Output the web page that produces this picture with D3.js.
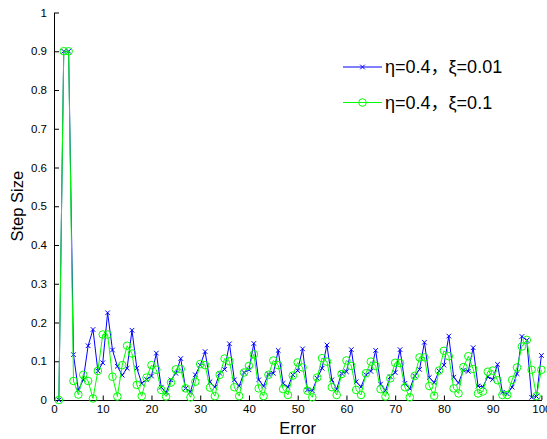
<!DOCTYPE html>
<html>
<head>
<meta charset="utf-8">
<script src="https://cdn.jsdelivr.net/npm/d3@7"></script>
<style>
  html, body { margin: 0; padding: 0; background: #fff; }
  svg { display: block; font-family: "Liberation Sans", Arial, sans-serif; }
</style>
</head>
<body>
<svg id="chart" width="547" height="439"></svg>
<script>
// Step size per error index, two parameter settings
const steps = d3.range(1, 101);

const seriesA = [
  0, 0.9, 0.9, 0.117, 0.026, 0.052, 0.140, 0.182, 0.075, 0.096,
  0.225, 0.129, 0.087, 0.064, 0.082, 0.180, 0.082, 0.043, 0.053, 0.062,
  0.121, 0.033, 0.019, 0.052, 0.069, 0.107, 0.030, 0.021, 0.065, 0.090,
  0.125, 0.047, 0.033, 0.069, 0.079, 0.145, 0.052, 0.036, 0.071, 0.078,
  0.146, 0.052, 0.036, 0.067, 0.069, 0.128, 0.043, 0.033, 0.065, 0.076,
  0.132, 0.026, 0.024, 0.056, 0.082, 0.142, 0.052, 0.028, 0.069, 0.073,
  0.130, 0.047, 0.034, 0.065, 0.074, 0.128, 0.041, 0.024, 0.060, 0.071,
  0.130, 0.043, 0.029, 0.062, 0.079, 0.149, 0.058, 0.045, 0.075, 0.090,
  0.165, 0.059, 0.044, 0.077, 0.074, 0.135, 0.036, 0.034, 0.060, 0.053,
  0.092, 0.020, 0.016, 0.033, 0.068, 0.164, 0.154, 0.007, 0.009, 0.115
];

const seriesB = [
  0, 0.9, 0.9, 0.049, 0.014, 0.065, 0.049, 0.004, 0.075, 0.169,
  0.169, 0.060, 0.009, 0.090, 0.140, 0.120, 0.039, 0.010, 0.058, 0.090,
  0.078, 0.026, 0.009, 0.045, 0.079, 0.080, 0.030, 0.007, 0.047, 0.093,
  0.090, 0.032, 0.010, 0.065, 0.107, 0.100, 0.033, 0.010, 0.071, 0.088,
  0.118, 0.030, 0.010, 0.065, 0.102, 0.090, 0.028, 0.013, 0.063, 0.097,
  0.084, 0.024, 0.007, 0.058, 0.108, 0.099, 0.033, 0.013, 0.067, 0.102,
  0.088, 0.026, 0.013, 0.069, 0.099, 0.088, 0.028, 0.009, 0.056, 0.096,
  0.095, 0.033, 0.007, 0.062, 0.110, 0.110, 0.036, 0.011, 0.076, 0.127,
  0.113, 0.030, 0.017, 0.085, 0.113, 0.080, 0.017, 0.022, 0.073, 0.076,
  0.051, 0.013, 0.013, 0.052, 0.084, 0.138, 0.155, 0.078, 0.010, 0.078
];

const seriesNames = ["η=0.4，ξ=0.01", "η=0.4，ξ=0.1"];
const seriesColors = ["#0000ff", "#00ff00"];

const xTicks = d3.range(0, 101, 10);
const yTicks = d3.range(0, 11).map(i => i / 10);

const svg = d3.select("#chart");
const x = d3.scaleLinear().domain([0, 100]).range([54, 541.4]);
const y = d3.scaleLinear().domain([0, 1]).range([400, 12.5]);

// axes with inward ticks, left and bottom only
const xAxis = d3.axisBottom(x).tickValues(xTicks).tickSizeInner(-4.5).tickSizeOuter(0)
  .tickPadding(5).tickFormat(d3.format("d"));
const yAxis = d3.axisLeft(y).tickValues(yTicks).tickSizeInner(-5).tickSizeOuter(0)
  .tickPadding(7).tickFormat(d => String(+d.toFixed(1)));

const gx = svg.append("g").attr("transform", `translate(0,${y(0)})`).call(xAxis);
const gy = svg.append("g").attr("transform", `translate(${x(0)},0)`).call(yAxis);
[gx, gy].forEach(g => {
  g.selectAll("text").attr("font-size", 11.5).attr("fill", "#000")
    .attr("font-family", "Liberation Sans, Arial, sans-serif");
  g.selectAll("line").attr("stroke", "#000");
  g.select(".domain").attr("stroke", "#000");
});

// series lines
const line = d3.line().x((d, i) => x(steps[i])).y(d => y(d));
[seriesA, seriesB].forEach((vals, k) => {
  svg.append("path").datum(vals)
    .attr("fill", "none").attr("stroke", seriesColors[k]).attr("stroke-width", 1)
    .attr("d", line);
  const g = svg.append("g");
  if (k === 0) {
    const s = 2.3;
    g.selectAll("path").data(vals).join("path")
      .attr("d", (d, i) => {
        const cx = x(steps[i]), cy = y(d);
        return `M${cx - s},${cy - s}L${cx + s},${cy + s}M${cx - s},${cy + s}L${cx + s},${cy - s}`;
      })
      .attr("stroke", seriesColors[k]).attr("stroke-width", 1).attr("fill", "none");
  } else {
    g.selectAll("circle").data(vals).join("circle")
      .attr("cx", (d, i) => x(steps[i])).attr("cy", d => y(d)).attr("r", 3.8)
      .attr("fill", "none").attr("stroke", seriesColors[k]).attr("stroke-width", 1);
  }
});

// axis titles
svg.append("text").attr("x", (x(0) + x(100)) / 2).attr("y", 434)
  .attr("text-anchor", "middle").attr("font-size", 16.5).text("Error");
svg.append("text").attr("transform", `translate(23,${(y(0) + y(1)) / 2}) rotate(-90)`)
  .attr("text-anchor", "middle").attr("font-size", 16.5).text("Step Size");

// legend
const legendRows = [67, 102.5];
seriesNames.forEach((name, k) => {
  const ly = legendRows[k];
  const lg = svg.append("g");
  lg.append("line").attr("x1", 343).attr("x2", 382).attr("y1", ly).attr("y2", ly)
    .attr("stroke", seriesColors[k]).attr("stroke-width", 1);
  if (k === 0) {
    const s = 2.3, cx = 362.5;
    lg.append("path")
      .attr("d", `M${cx - s},${ly - s}L${cx + s},${ly + s}M${cx - s},${ly + s}L${cx + s},${ly - s}`)
      .attr("stroke", seriesColors[k]).attr("stroke-width", 1);
  } else {
    lg.append("circle").attr("cx", 362.5).attr("cy", ly).attr("r", 3.8)
      .attr("fill", "none").attr("stroke", seriesColors[k]).attr("stroke-width", 1);
  }
  lg.append("text").attr("x", 385).attr("y", ly).attr("dy", "0.35em")
    .attr("font-family", "'Liberation Sans', 'Noto Sans CJK SC', sans-serif")
    .attr("font-size", 18).text(name);
});
</script>
</body>
</html>
